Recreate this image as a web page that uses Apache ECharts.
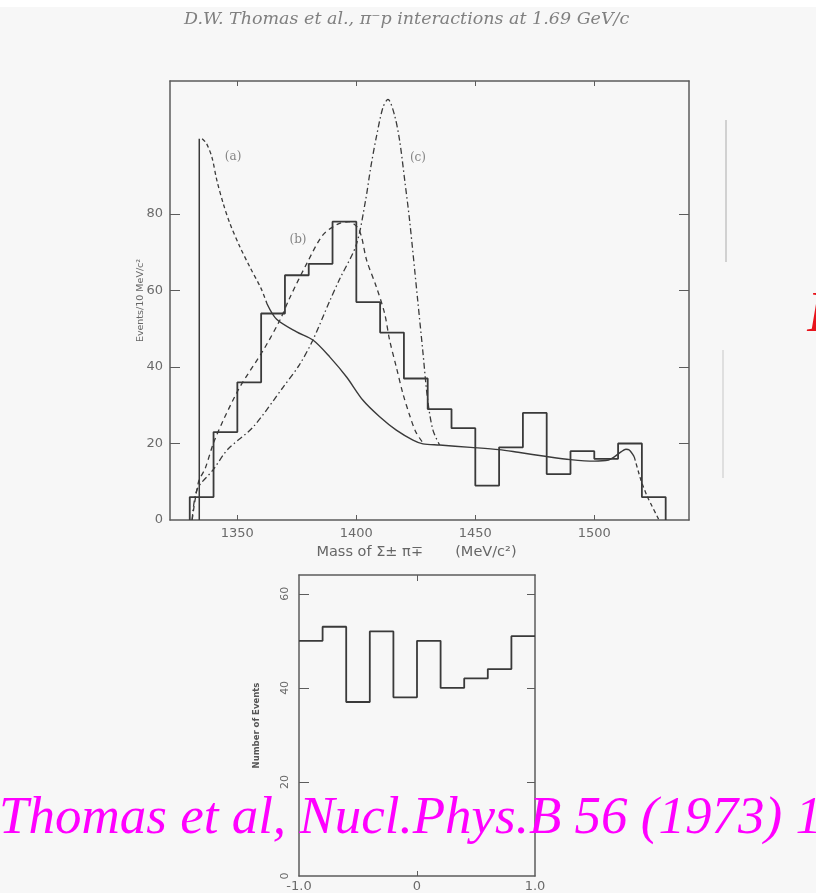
<!DOCTYPE html>
<html>
<head>
<meta charset="utf-8">
<script src="https://cdn.jsdelivr.net/npm/echarts@6/dist/echarts.min.js"></script>
<style>
  html, body { margin: 0; padding: 0; background: #f7f7f7; }
  #chart { width: 816px; height: 893px; }
</style>
</head>
<body>
<div id="chart"></div>
<script>
// ---- Σπ invariant mass spectrum (10 MeV/c² bins) ----
const massEdges  = [1330, 1340, 1350, 1360, 1370, 1380, 1390, 1400, 1410, 1420, 1430,
                    1440, 1450, 1460, 1470, 1480, 1490, 1500, 1510, 1520, 1530];
const massCounts = [6, 23, 36, 54, 64, 67, 78, 57, 49, 37, 29, 24, 9, 19, 28, 12, 18, 16, 20, 6];
const massTicks  = [1350, 1400, 1450, 1500];
const eventTicks = [0, 20, 40, 60, 80];

// curve (a): threshold cusp, its dashed upper branch and the solid fit with the tail
const curveACusp   = [[1334, 0], [1334, 99.7]];
const curveADashed = [[1335.2, 99.7], [1337, 98.5], [1339.3, 94.9], [1341.4, 88.8], [1344.1, 82.7],
                      [1346.9, 77.5], [1351.1, 71.4], [1355.3, 66.1], [1360, 60.5], [1362.5, 56.5]];
const curveASolid  = [[1362.5, 56.5], [1366.5, 52.5], [1374.9, 49.2], [1381.9, 47.0], [1388.9, 42.6],
                      [1395.9, 37.4], [1402.8, 31.3], [1409.8, 27.0], [1416.8, 23.5], [1423.8, 20.9],
                      [1428, 19.9], [1435, 19.6], [1448, 19.0], [1460, 18.4], [1468, 17.7],
                      [1480, 16.6], [1490, 15.8], [1500, 15.4], [1506, 15.7], [1508.4, 16.5],
                      [1511.2, 17.8], [1513.3, 18.5], [1514.7, 18.3], [1516.8, 16.5]];
const curveAEnd    = [[1516.8, 16.5], [1519.6, 10.4], [1522.3, 6.1], [1527.2, 0]];

// curve (b)
const curveB = [[1331, 0], [1333.7, 10], [1336.5, 13.5], [1339.9, 20], [1344.1, 26.1], [1351.1, 34.8],
                [1360.9, 44.4], [1367.9, 52.3], [1372.1, 58.2], [1379.2, 67.1], [1385.9, 74.5],
                [1392, 77.3], [1397, 78], [1400.5, 76.5], [1402.2, 74], [1404.3, 68], [1408.4, 61],
                [1411.9, 54], [1414, 47], [1416.8, 40], [1419.6, 33], [1422.4, 27.4], [1425, 23],
                [1428, 20.2]];

// curve (c)
const curveC = [[1331, 0], [1333.1, 8], [1339.8, 13.1], [1346, 18.5], [1356.6, 24.3], [1369.2, 34.7],
                [1376, 40.5], [1381.7, 47.0], [1388.9, 57.4], [1393, 63], [1400, 72], [1404, 84],
                [1406, 92], [1408.4, 100.1], [1411.2, 107.9], [1413.3, 110], [1416, 106],
                [1418.2, 99.2], [1420.5, 88], [1422.4, 78.3], [1425.8, 57.4], [1427.9, 44.4],
                [1430, 31.3], [1432.2, 23.5], [1435, 19.6]];

const curveLabels = [['(a)', 1348.2, 94.9], ['(b)', 1375.5, 73.2], ['(c)', 1425.9, 94.6]];

// ---- angular distribution (cos θ, 0.2 bins) ----
const cosEdges   = [-1.0, -0.8, -0.6, -0.4, -0.2, 0.0, 0.2, 0.4, 0.6, 0.8, 1.0];
const cosCounts  = [50, 53, 37, 52, 38, 50, 40, 42, 44, 51];
const cosTicks   = [-1, 0, 1];
const countTicks = [0, 20, 40, 60];

// build histogram outlines from bin edges and counts
function outline(edges, counts, closed) {
  const pts = [];
  if (closed) pts.push([edges[0], 0]);
  counts.forEach((c, i) => pts.push([edges[i], c]));
  pts.push([edges[edges.length - 1], counts[counts.length - 1]]);
  if (closed) pts.push([edges[edges.length - 1], 0]);
  return pts;
}

const ink = '#3a3a3a';
const frame = '#5c5c5c';
const labelFont = { fontFamily: 'DejaVu Sans', fontSize: 13, color: '#6a6a6a' };

const chart = echarts.init(document.getElementById('chart'), null, { renderer: 'canvas' });

const frameAxis = (extra) => Object.assign({
  type: 'value', splitLine: { show: false },
  axisLine: { show: true, onZero: false, lineStyle: { color: frame, width: 1.5 } },
  axisTick: { show: true, inside: true, lineStyle: { color: frame, width: 1.2 } },
  axisLabel: { show: false }
}, extra);

const line = (data, type, width, extra) => Object.assign({
  type: 'line', data: data, showSymbol: false, symbol: 'none', animation: false,
  lineStyle: { color: ink, width: width, type: type }, z: 3
}, extra);

chart.setOption({
  backgroundColor: '#f7f7f7',
  animation: false,
  grid: [
    { left: 170, top: 81, width: 519, height: 439 },
    { left: 299, top: 575, width: 236, height: 302 }
  ],
  xAxis: [
    frameAxis({ gridIndex: 0, position: 'bottom', min: 1321.7, max: 1539.8,
      axisTick: { show: true, inside: true, length: 5, customValues: massTicks, lineStyle: { color: frame } },
      axisLabel: Object.assign({ show: true, customValues: massTicks, margin: 7, formatter: v => String(v) }, labelFont),
      name: 'Mass of Σ\u00B1 π\u2213       (MeV/c\u00B2)', nameLocation: 'middle', nameGap: 25,
      nameTextStyle: { fontFamily: 'DejaVu Sans', fontSize: 14.5, color: '#666', padding: [0, 26, 0, 0] } }),
    frameAxis({ gridIndex: 0, position: 'top', min: 1321.7, max: 1539.8,
      axisTick: { show: true, inside: true, length: 5, customValues: massTicks, lineStyle: { color: frame } } }),
    frameAxis({ gridIndex: 1, position: 'bottom', min: -1, max: 1,
      axisTick: { show: true, inside: true, length: 5, customValues: [0], lineStyle: { color: frame } },
      axisLabel: Object.assign({ show: true, customValues: cosTicks, margin: 4,
        formatter: v => (v === 0 ? '0' : v.toFixed(1)) }, labelFont) }),
    frameAxis({ gridIndex: 1, position: 'top', min: -1, max: 1,
      axisTick: { show: true, inside: true, length: 6, customValues: [0], lineStyle: { color: frame } } })
  ],
  yAxis: [
    frameAxis({ gridIndex: 0, position: 'left', min: 0, max: 114.8,
      axisTick: { show: true, inside: true, length: 10, customValues: eventTicks.slice(1), lineStyle: { color: frame } },
      axisLabel: Object.assign({ show: true, customValues: eventTicks, margin: 7 }, labelFont),
      name: 'Events/10 MeV/c\u00B2', nameLocation: 'middle', nameGap: 24, nameRotate: 90,
      nameMoveOverlap: false,
      nameTextStyle: { fontFamily: 'DejaVu Sans', fontSize: 9.5, color: '#666' } }),
    frameAxis({ gridIndex: 0, position: 'right', min: 0, max: 114.8,
      axisTick: { show: true, inside: true, length: 10, customValues: eventTicks.slice(1), lineStyle: { color: frame } } }),
    frameAxis({ gridIndex: 1, position: 'left', min: 0, max: 64,
      axisTick: { show: true, inside: true, length: 10, customValues: countTicks.slice(1), lineStyle: { color: frame } },
      axisLabel: Object.assign({ show: true, customValues: countTicks, margin: 8, rotate: 90 }, labelFont, { fontSize: 11 }),
      name: 'Number of Events', nameLocation: 'middle', nameGap: 38, nameRotate: 90,
      nameTextStyle: { fontFamily: 'DejaVu Sans', fontSize: 8.5, fontWeight: 'bold', color: '#555' } }),
    frameAxis({ gridIndex: 1, position: 'right', min: 0, max: 64,
      axisTick: { show: true, inside: true, length: 8, customValues: countTicks.slice(1), lineStyle: { color: frame } } })
  ],
  series: [
    line(outline(massEdges, massCounts, true), 'solid', 1.8, { step: 'end', xAxisIndex: 0, yAxisIndex: 0 }),
    line(curveACusp, 'solid', 1.5, { xAxisIndex: 0, yAxisIndex: 0 }),
    line(curveADashed, [4, 3], 1.3, { smooth: 0.3, xAxisIndex: 0, yAxisIndex: 0 }),
    line(curveASolid, 'solid', 1.4, { smooth: 0.3, xAxisIndex: 0, yAxisIndex: 0 }),
    line(curveAEnd, [4, 3], 1.3, { smooth: 0.2, xAxisIndex: 0, yAxisIndex: 0 }),
    line(curveB, [5, 4], 1.3, { smooth: 0.3, xAxisIndex: 0, yAxisIndex: 0 }),
    line(curveC, [6, 3, 1.5, 3], 1.3, { smooth: 0.3, xAxisIndex: 0, yAxisIndex: 0 }),
    {
      type: 'scatter', xAxisIndex: 0, yAxisIndex: 0, symbolSize: 0, silent: true,
      data: curveLabels.map(d => ({ name: d[0], value: [d[1], d[2]] })),
      label: { show: true, position: 'inside', formatter: p => p.name,
        fontFamily: 'DejaVu Serif', fontSize: 12, color: '#666' }
    },
    line(outline(cosEdges, cosCounts, false), 'solid', 1.8, { step: 'end', xAxisIndex: 2, yAxisIndex: 2 })
  ],
  graphic: [
    { type: 'rect', shape: { x: 0, y: 0, width: 816, height: 7 }, style: { fill: '#ffffff' }, z: 0 },
    { type: 'text', left: 184, top: 10, z: 10,
      style: { text: 'D.W. Thomas et al., π\u207Bp interactions at 1.69 GeV/c',
        font: 'italic 17.5px "DejaVu Serif"', fill: '#808080' } },
    { type: 'line', shape: { x1: 726, y1: 120, x2: 726, y2: 262 }, style: { stroke: '#c4c4c4', lineWidth: 1.5 }, z: 1 },
    { type: 'line', shape: { x1: 723, y1: 350, x2: 723, y2: 478 }, style: { stroke: '#cfcfcf', lineWidth: 1.2 }, z: 1 },
    { type: 'text', left: 807, top: 288, z: 10,
      style: { text: 'I', font: 'italic 56px "Liberation Serif"', fill: '#e8141c' } },
    { type: 'text', left: -1, top: 793, z: 10,
      style: { text: 'Thomas et al, Nucl.Phys.B 56 (1973) 1', font: 'italic 53px "Liberation Serif"', fill: '#ff00ff' } }
  ]
});
</script>
</body>
</html>
